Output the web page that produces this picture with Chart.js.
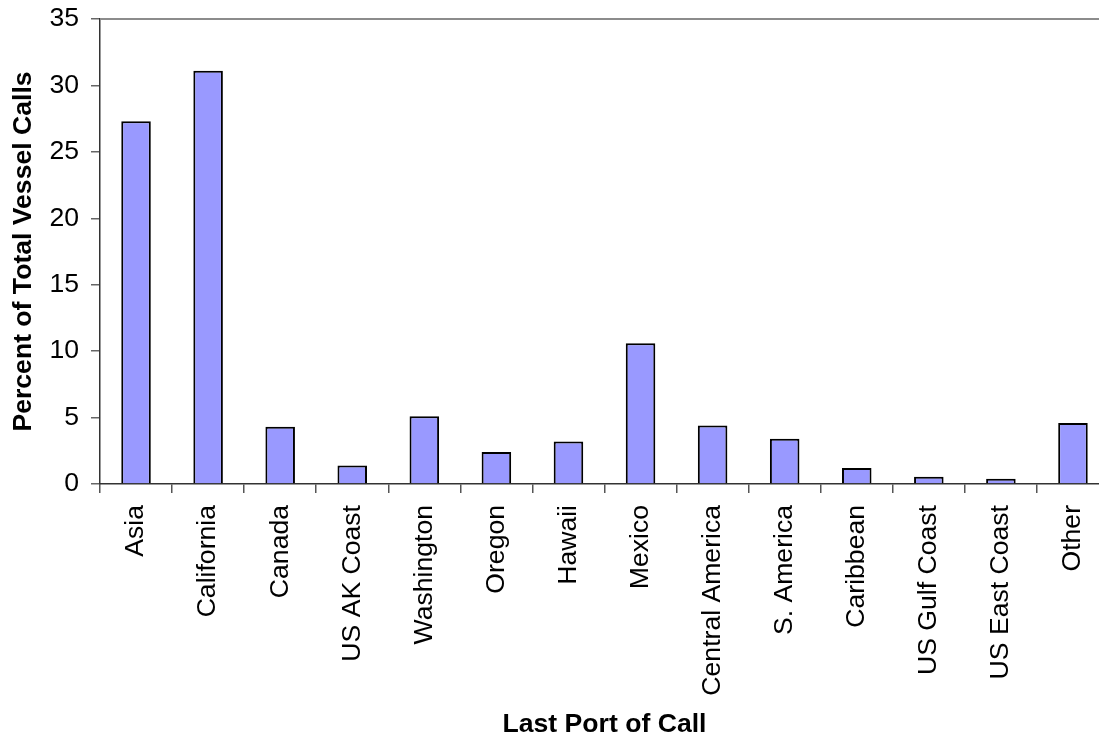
<!DOCTYPE html>
<html>
<head>
<meta charset="utf-8">
<script src="https://cdn.jsdelivr.net/npm/chart.js@4"></script>
<style>
  html, body { margin: 0; padding: 0; overflow: hidden; background: #fff; }
  canvas { display: block; }
</style>
</head>
<body>
<canvas id="chart" width="1109" height="738"></canvas>
<script>
// Share of total vessel calls by last port of call
const categories = ['Asia', 'California', 'Canada', 'US AK Coast', 'Washington', 'Oregon',
  'Hawaii', 'Mexico', 'Central America', 'S. America', 'Caribbean', 'US Gulf Coast',
  'US East Coast', 'Other'];
const percentCalls = [27.3, 31.1, 4.3, 1.4, 5.1, 2.4, 3.2, 10.6, 4.4, 3.4, 1.2, 0.55, 0.4, 4.6];
const yTicks = [0, 5, 10, 15, 20, 25, 30, 35];

const FONT = "'Liberation Sans', Arial, sans-serif";
const SIZE = 26.6;

// Thin grey frame line along the top of the plot area
const topFrame = {
  id: 'topFrame',
  afterDraw(chart) {
    const { ctx, chartArea } = chart;
    ctx.save();
    ctx.strokeStyle = '#8c8c8c';
    ctx.lineWidth = 2;
    ctx.beginPath();
    ctx.moveTo(chartArea.left, chartArea.top);
    ctx.lineTo(chartArea.right, chartArea.top);
    ctx.stroke();
    ctx.restore();
  }
};

new Chart(document.getElementById('chart'), {
  type: 'bar',
  data: {
    labels: categories,
    datasets: [{
      data: percentCalls,
      backgroundColor: '#9999ff',
      borderColor: '#000000',
      borderWidth: 2,
      barPercentage: 0.41,
      categoryPercentage: 1.0
    }]
  },
  options: {
    responsive: false,
    animation: false,
    devicePixelRatio: 1,
    layout: { padding: { top: 19, right: 0, left: 0, bottom: 0 } },
    plugins: { legend: { display: false }, tooltip: { enabled: false } },
    scales: {
      x: {
        offset: true,
        afterFit(scale) {
          scale.height = 254;
          scale.paddingLeft = 0;
          scale.paddingRight = 0;
        },
        border: { display: true, color: '#333333', width: 1.5 },
        grid: { display: true, offset: true, drawOnChartArea: false, drawTicks: true,
                tickLength: 9, color: '#555555', lineWidth: 1.5 },
        ticks: {
          autoSkip: false, maxRotation: 90, minRotation: 90, padding: 12,
          color: '#000', font: { family: FONT, size: SIZE }
        },
        title: {
          display: true, text: 'Last Port of Call', color: '#000',
          font: { family: FONT, size: SIZE, weight: 'bold', lineHeight: 1 },
          padding: { top: 0, bottom: 0 }
        }
      },
      y: {
        min: 0, max: 35,
        afterFit(scale) {
          scale.width = 100;
          scale.paddingTop = 0;
          scale.paddingBottom = 0;
        },
        afterBuildTicks(scale) { scale.ticks = yTicks.map(v => ({ value: v })); },
        border: { display: true, color: '#333333', width: 1.5 },
        grid: { display: true, drawOnChartArea: false, drawTicks: true,
                tickLength: 9, color: '#666666', lineWidth: 1.5 },
        ticks: {
          padding: 12, color: '#000', font: { family: FONT, size: SIZE }
        },
        title: {
          display: true, text: 'Percent of Total Vessel Calls', color: '#000',
          font: { family: FONT, size: SIZE, weight: 'bold', lineHeight: 1 },
          padding: { top: 10, bottom: 0 }
        }
      }
    }
  },
  plugins: [topFrame]
});
</script>
</body>
</html>
